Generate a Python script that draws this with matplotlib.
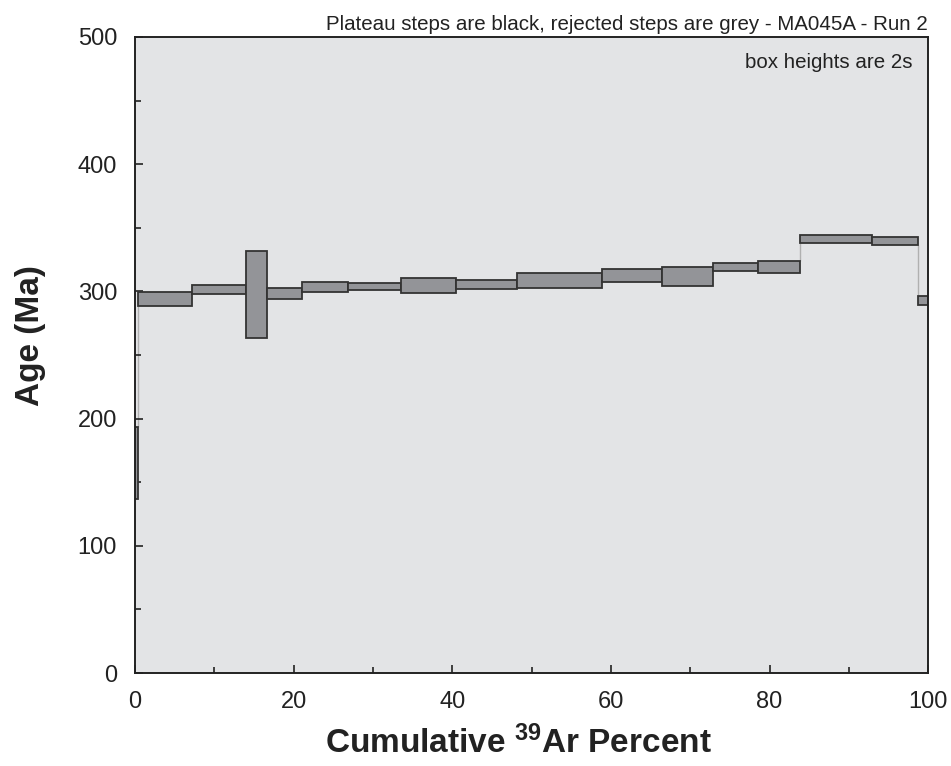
import matplotlib
matplotlib.use('Agg')
import matplotlib.pyplot as plt
import numpy as np

# step data: cumulative 39Ar edges and 2s age ranges (Ma)
cum_edges = [0, 0.4, 7.15, 14.0, 16.7, 21.0, 26.8, 33.5, 40.5, 48.1, 58.9,
             66.5, 72.9, 78.5, 83.9, 92.9, 98.7, 100]
age_lo = [136.6, 288.8, 297.7, 263.1, 293.8, 299.3, 300.9, 298.7, 301.6, 302.7,
          307.6, 304.2, 316.3, 314.7, 337.8, 336.2, 289.1]
age_hi = [193.6, 299.3, 304.8, 331.8, 302.4, 307.4, 306.6, 310.8, 309.0, 314.7,
          317.4, 319.4, 322.6, 323.7, 344.3, 343.0, 296.1]

plt.rcParams['font.family'] = ['Liberation Sans', 'DejaVu Sans']
plt.rcParams['mathtext.fontset'] = 'custom'
plt.rcParams['mathtext.bf'] = 'Liberation Sans:bold'
plt.rcParams['mathtext.rm'] = 'Liberation Sans'

fig = plt.figure(figsize=(9.51, 7.66), dpi=100)
ax = fig.add_axes([0.142, 0.1214, 0.834, 0.8303])
ax.set_facecolor('#e3e4e6')

left = np.array(cum_edges[:-1])
width = np.diff(cum_edges)
lo = np.array(age_lo)
hi = np.array(age_hi)

# grey connectors between steps that do not overlap
for i in range(len(lo) - 1):
    x = cum_edges[i + 1]
    if lo[i + 1] > hi[i]:
        ax.vlines(x, hi[i], lo[i + 1], color='#b0b0b0', linewidth=1, zorder=1)
    elif hi[i + 1] < lo[i]:
        ax.vlines(x, hi[i + 1], lo[i], color='#b0b0b0', linewidth=1, zorder=1)

ax.bar(left, hi - lo, width=width, bottom=lo, align='edge',
       color='#939498', edgecolor='#333333', linewidth=1.3, zorder=2)

ax.set_xlim(0, 100)
ax.set_ylim(0, 500)
ax.set_xticks(np.arange(0, 101, 20))
ax.set_xticks(np.arange(0, 101, 10), minor=True)
ax.set_yticks(np.arange(0, 501, 100))
ax.set_yticks(np.arange(0, 501, 50), minor=True)
ax.tick_params(direction='in', which='major', length=6, width=1.2,
               labelsize=17, colors='#222222')
ax.tick_params(direction='in', which='minor', length=4, width=1.2, colors='#222222')
ax.tick_params(axis='x', which='major', pad=13)
ax.tick_params(axis='y', which='major', pad=13)
for s in ax.spines.values():
    s.set_linewidth(1.4)
    s.set_color('#222222')

fig.text(0.545, 0.017, r'Cumulative $\mathbf{^{39}}$Ar Percent', fontsize=24,
         fontweight='bold', color='#222222', ha='center', va='baseline')
fig.text(0.032, 1 - 336 / 766, 'Age (Ma)', fontsize=24, fontweight='bold',
         color='#222222', rotation=90, ha='center', va='center')

ax.set_title('Plateau steps are black, rejected steps are grey - MA045A - Run 2',
             loc='right', fontsize=14.8, color='#222222', pad=5)
ax.text(0.98, 0.975, 'box heights are 2s', transform=ax.transAxes,
        ha='right', va='top', fontsize=14.8, color='#222222')

plt.savefig('out.png', dpi=100)
